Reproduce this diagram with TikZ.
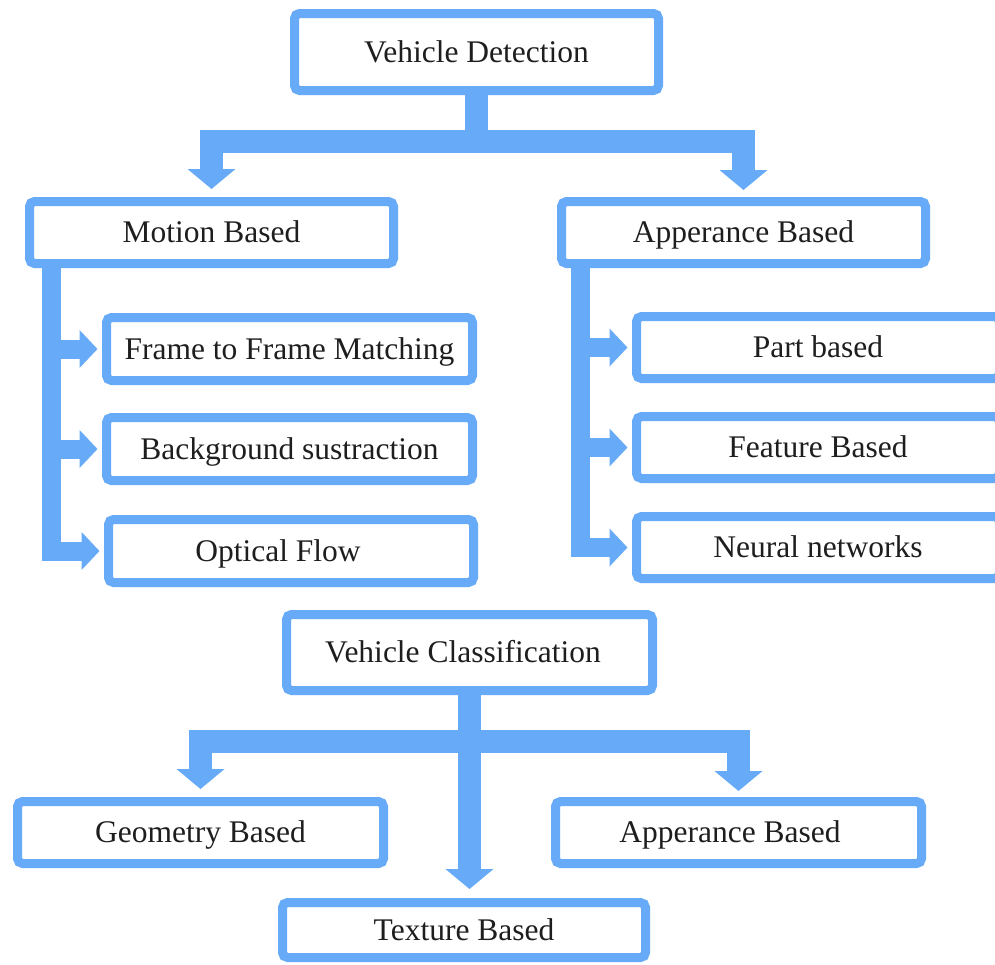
\documentclass[tikz,border=0pt]{standalone}
\usepackage{fontspec}
\setmainfont{Liberation Serif}
\usetikzlibrary{arrows.meta}
\definecolor{bblue}{RGB}{102,170,248}
\definecolor{txt}{RGB}{30,30,30}
\tikzset{
  box/.style={draw=bblue, line width=9pt, rounded corners=5pt, fill=white,
    inner sep=0pt, text=txt, font=\fontsize{31.5}{36}\selectfont,
    text height=24pt, text depth=4pt},
  bar/.style={draw=bblue, line width=23pt, line join=miter},
  sbar/.style={draw=bblue, line width=19pt, line join=miter},
  bigtip/.style={-{Triangle[length=20pt,width=47pt]}},
  bigtips/.style={{Triangle[length=20pt,width=47pt]}-{Triangle[length=20pt,width=47pt]}},
  smalltip/.style={-{Triangle[length=18pt,width=37pt]}}
}
\begin{document}
\begin{tikzpicture}[x=1pt,y=-1pt]
\clip (0,0) rectangle (995,964);
\fill[white] (0,0) rectangle (995,964);

% top tree connectors (drawn first, under boxes)
\coordinate (lcol) at (51.5,0);
\coordinate (rcol) at (580,0);

% boxes
\node[box, minimum width=364pt, minimum height=77pt] (vd) at (476.5,52) {Vehicle Detection};
\node[box, minimum width=364pt, minimum height=62pt] (mb) at (211.5,232.5) {Motion Based};
\node[box, minimum width=364pt, minimum height=62pt] (ab) at (743.5,232.5) {Apperance Based};
\node[box, minimum width=366pt, minimum height=63pt] (ff) at (289.5,349) {Frame to Frame Matching};
\node[box, minimum width=366pt, minimum height=63pt] (bs) at (289.5,449) {Background sustraction};
\node[box, minimum width=365pt, minimum height=63pt] (of) at (291,551) {Optical Flow\hspace*{26pt}};
\node[box, minimum width=363pt, minimum height=62pt] (pb) at (818,347.5) {Part based};
\node[box, minimum width=363pt, minimum height=62pt] (fb) at (818,447.5) {Feature Based};
\node[box, minimum width=363pt, minimum height=62pt] (nn) at (818,547.5) {Neural networks};
\node[box, minimum width=366pt, minimum height=76pt] (vc) at (469.5,652.5) {Vehicle Classification\hspace*{13pt}};
\node[box, minimum width=366pt, minimum height=62pt] (gb) at (200.5,832.5) {Geometry Based};
\node[box, minimum width=366pt, minimum height=62pt] (apb) at (738.5,832.5) {Apperance Based\hspace*{17pt}};
\node[box, minimum width=363pt, minimum height=55pt] (tb) at (464,930) {Texture Based};

% top tree
\draw[bar] (vd.south) -- (vd.south |- 0,141);
\draw[bar, bigtips, shorten <=8pt, shorten >=7pt]
  (mb.north) -- (mb.north |- 0,141) -- (ab.north |- 0,141) -- (ab.north);

% left branch
\draw[sbar, smalltip, shorten >=4.5pt] (lcol |- mb.south) -- (lcol |- of.west) -- (of.west);
\draw[sbar, smalltip, shorten >=4.5pt] (lcol |- ff.west) -- (ff.west);
\draw[sbar, smalltip, shorten >=4.5pt] (lcol |- bs.west) -- (bs.west);

% right branch
\draw[sbar, smalltip, shorten >=4.5pt] (rcol |- ab.south) -- (rcol |- nn.west) -- (nn.west);
\draw[sbar, smalltip, shorten >=4.5pt] (rcol |- pb.west) -- (pb.west);
\draw[sbar, smalltip, shorten >=4.5pt] (rcol |- fb.west) -- (fb.west);

% bottom tree
\draw[bar, bigtips, shorten <=8pt, shorten >=6pt]
  (gb.north) -- (gb.north |- 0,741) -- (apb.north |- 0,741) -- (apb.north);
\draw[bar, bigtip, shorten >=9pt] (vc.south) -- (vc.south |- tb.north);
\end{tikzpicture}
\end{document}
